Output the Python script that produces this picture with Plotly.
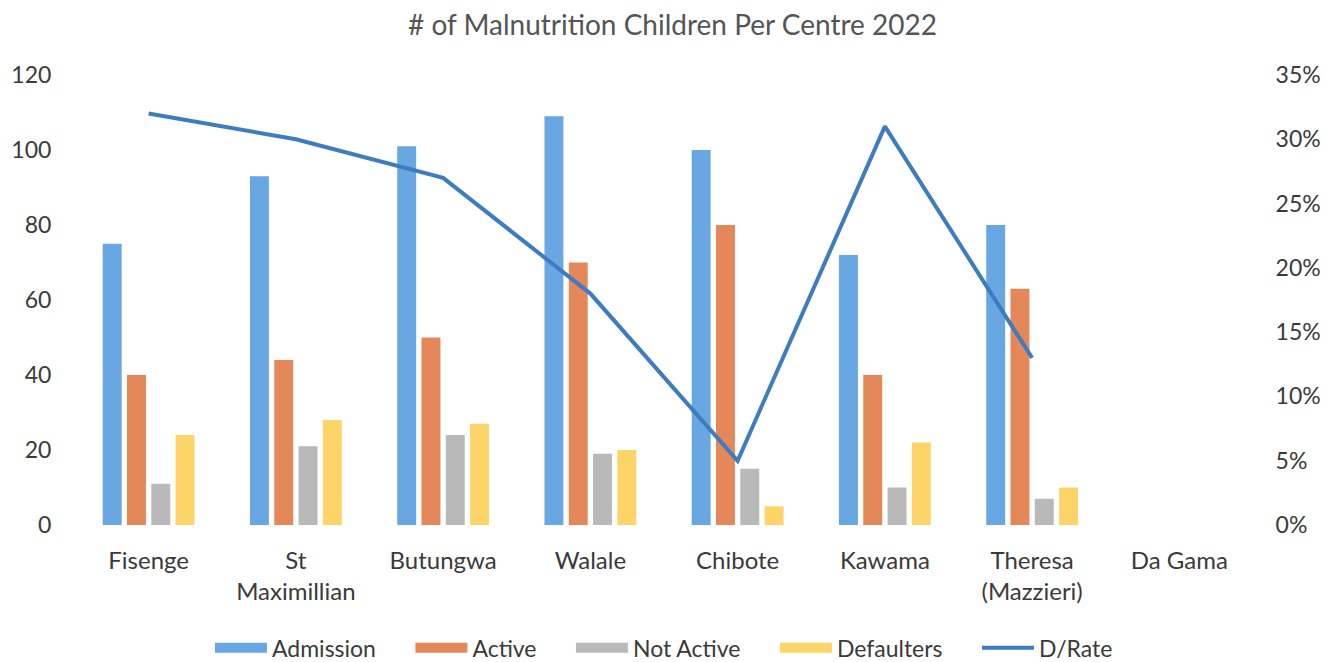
import plotly.graph_objects as go

centres = ["Fisenge", "St<br>Maximillian", "Butungwa", "Walale", "Chibote", "Kawama", "Theresa<br>(Mazzieri)", "Da Gama"]
admission = [75, 93, 101, 109, 100, 72, 80, None]
active = [40, 44, 50, 70, 80, 40, 63, None]
not_active = [11, 21, 24, 19, 15, 10, 7, None]
defaulters = [24, 28, 27, 20, 5, 22, 10, None]
d_rate = [0.32, 0.30, 0.27, 0.18, 0.05, 0.31, 0.13, None]

font_family = "Lato, 'Open Sans', sans-serif"
text_color = "#3a3a3a"
pad = "\u00a0" * 5

fig = go.Figure()
bar_series = [
    ("Admission", admission, "#69a7e2"),
    ("Active", active, "#e4885a"),
    ("Not Active", not_active, "#b9b9b9"),
    ("Defaulters", defaulters, "#fcd468"),
]
for name, vals, col in bar_series:
    fig.add_trace(go.Bar(x=centres, y=vals, name=name, legendgroup=name, showlegend=False,
                         marker=dict(color=col, line=dict(width=0))))
    # legend entry with a wide swatch
    fig.add_trace(go.Scatter(x=[None], y=[None], name=name + pad, legendgroup=name, mode="lines",
                             line=dict(color=col, width=12), showlegend=True, hoverinfo="skip"))

fig.add_trace(go.Scatter(x=centres, y=d_rate, name="D/Rate", mode="lines",
                         line=dict(color="#3d7cc0", width=4), yaxis="y2"))

fig.update_layout(
    width=1329, height=654,
    margin=dict(l=67, r=84, t=67, b=137, autoexpand=False),
    paper_bgcolor="white", plot_bgcolor="white",
    title=dict(text="# of Malnutrition Children Per Centre 2022", x=0.5, xanchor="center",
               y=0.974, yanchor="middle", font=dict(family=font_family, size=28, color="#555555")),
    font=dict(family=font_family, size=24, color=text_color),
    barmode="group", bargap=0.34, bargroupgap=0.22,
    xaxis=dict(showgrid=False, zeroline=False, showline=False, ticks="outside", ticklen=14,
               tickcolor="rgba(0,0,0,0)", tickfont=dict(size=24, color=text_color)),
    yaxis=dict(range=[0, 120], dtick=20, showgrid=False, zeroline=False, showline=False,
               ticks="outside", ticklen=18, tickcolor="rgba(0,0,0,0)",
               tickfont=dict(size=23, color=text_color)),
    yaxis2=dict(range=[0, 0.35], dtick=0.05, tickformat=".0%", overlaying="y", side="right",
                showgrid=False, zeroline=False, showline=False, ticks="outside", ticklen=17,
                tickcolor="rgba(0,0,0,0)", tickfont=dict(size=23, color=text_color)),
    legend=dict(orientation="h", x=0.5, xanchor="center", y=-0.273, yanchor="middle",
                font=dict(size=23, color=text_color), itemwidth=52, traceorder="normal"),
    showlegend=True,
)

fig.write_html("out.html")
